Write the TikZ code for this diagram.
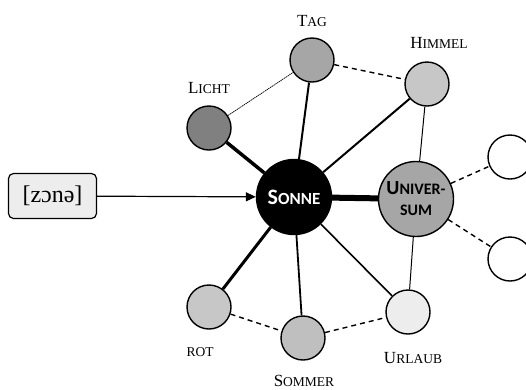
\documentclass[tikz,border=0pt]{standalone}
\usepackage{fontspec}
\setmainfont{Liberation Serif}
\newfontfamily\carlito{Carlito}
\usetikzlibrary{arrows.meta}

% small caps by hand: first letter big, rest smaller
\newcommand\kap[2]{{\fontsize{17}{17}\selectfont #1}{\fontsize{13.5}{13.5}\selectfont #2}}
\newcommand\kapsf[3]{{\fontsize{#1}{#1}\selectfont #2}{\fontsize{16}{16}\selectfont #3}}

\tikzset{
  begriff/.style={circle, draw, line width=1.4pt, minimum size=44pt, inner sep=0pt},
  kern/.style={circle, draw, line width=1.4pt, minimum size=75pt, inner sep=0pt,
    font=\carlito\bfseries, align=center},
  wort/.style={inner sep=0pt},
  schwach/.style={dash pattern=on 5pt off 4pt, line width=1.4pt},
}

\begin{document}
\begin{tikzpicture}[x=1pt,y=-1pt]
\useasboundingbox (0,0) rectangle (526,389);
\clip (0,0) rectangle (526,389);

% Kern
\node[kern, fill=black, text=white] (sonne) at (294,197)
  {\fontsize{22}{22}\selectfont S{\fontsize{17}{17}\selectfont ONNE}};
\node[kern, fill=black!35] (univ) at (416,199)
  {\kapsf{20}{U}{NIVER-}\\[9pt]{\fontsize{16}{16}\selectfont SUM}};

% Begriffe
\node[begriff, fill=black!50] (licht) at (209,128) {};
\node[begriff, fill=black!35] (tag) at (312,60) {};
\node[begriff, fill=black!22] (himmel) at (427,84) {};
\node[begriff, fill=black!22] (rot) at (209,307) {};
\node[begriff, fill=black!25] (sommer) at (303,338) {};
\node[begriff, fill=black!7] (urlaub) at (408,312) {};
\node[begriff] (leerA) at (510,157) {};
\node[begriff] (leerB) at (510,259) {};

% Lautform
\node[draw, line width=1.2pt, rounded corners=5pt, fill=black!7,
  minimum width=88pt, minimum height=45pt, font=\fontsize{24}{24}\selectfont]
  (laut) at (52.5,196) {[zɔnə]};

% Beschriftung
\node[wort] (tagtxt) at (312,21) {\kap{T}{AG}};
\node[wort] (himmeltxt) at (439,43) {\kap{H}{IMMEL}};
\node[wort] (lichttxt) at (209,88) {\kap{L}{ICHT}};
\node[wort] (rottxt) at (200,352) {\fontsize{13.5}{13.5}\selectfont ROT};
\node[wort] (sommertxt) at (304,381) {\kap{S}{OMMER}};
\node[wort] (urlaubtxt) at (413,358) {\kap{U}{RLAUB}};

% Kanten
\draw[line width=1.2pt, -{Triangle[length=10pt,width=9pt]}] (laut) -- (sonne);
\draw[line width=6pt] (sonne) -- (univ);
\draw[line width=3.5pt] (sonne) -- (licht);
\draw[line width=3pt] (sonne) -- (rot);
\draw[line width=2pt] (sonne) -- (tag);
\draw[line width=2pt] (sonne) -- (himmel);
\draw[line width=1.8pt] (sonne) -- (sommer);
\draw[line width=1.6pt] (sonne) -- (urlaub);
\draw[line width=1pt] (himmel) -- (univ);
\draw[line width=1pt] (univ) -- (urlaub);
\draw[line width=0.7pt, dash pattern=on 1.5pt off 0.6pt] (licht) -- (tag);
\draw[schwach] (tag) -- (himmel);
\draw[schwach] (rot) -- (sommer);
\draw[schwach] (sommer) -- (urlaub);
\draw[schwach] (univ) -- (leerA);
\draw[schwach] (univ) -- (leerB);
\end{tikzpicture}
\end{document}
